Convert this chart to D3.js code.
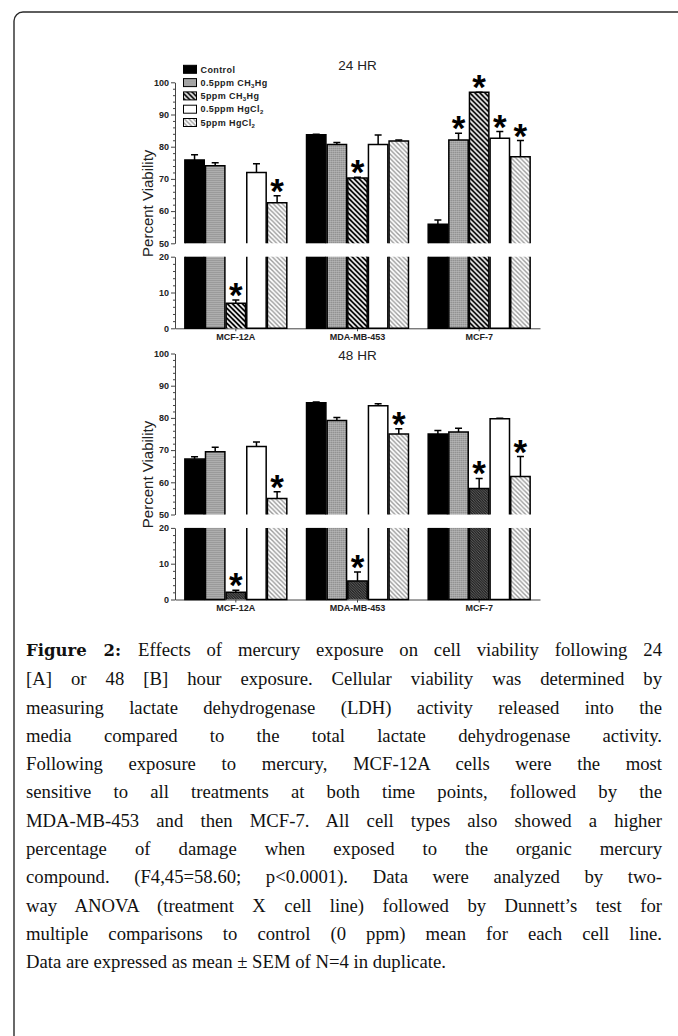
<!DOCTYPE html>
<meta charset="utf-8">
<script src="https://cdn.jsdelivr.net/npm/d3@7"></script>
<style>
body {
  margin: 0;
  background: #fff;
}
#wrap {
  position: relative;
  width: 678px;
  height: 1036px;
  overflow: hidden;
}
svg {
  position: absolute;
  left: 0;
  top: 0;
}
.caption {
  position: absolute;
  left: 26px;
  top: 636px;
  width: 636px;
  font-family: "Liberation Serif", "Times New Roman", serif;
  font-size: 18.7px;
  line-height: 28.3px;
  color: #111;
}
.caption div {
  white-space: nowrap;
  text-align: justify;
  text-align-last: justify;
}
.caption div.last {
  text-align-last: left;
}
.caption b {
  font-family: "DejaVu Serif", serif;
  font-size: 16.5px;
}
.axis text {
  font-family: "Liberation Sans", Arial, sans-serif;
  font-size: 9px;
  font-weight: bold;
  fill: #222;
}
.axis path, .axis line {
  stroke: #444;
}
</style>
<body>
<div id="wrap"></div>
<script>

// cell lines and treatments
var cellLines = ["MCF-12A", "MDA-MB-453", "MCF-7"];
var treatments = ["Control", "0.5ppm CH3Hg", "5ppm CH3Hg", "0.5ppm HgCl2", "5ppm HgCl2"];

// 24 HR: percent viability (mean), one row per cell line
var mean24 = [
  [75.9, 74.1, 7.0, 72.0, 62.6],
  [83.7, 80.7, 70.3, 80.7, 81.8],
  [55.9, 82.1, 96.9, 82.6, 76.9]
];
var sem24 = [
  [1.6, 0.9, 0.9, 2.7, 2.2],
  [0.2, 0.6, 0.2, 2.9, 0.3],
  [1.3, 2.1, 0.0, 2.1, 5.0]
];
var sig24 = [
  [0, 0, 1, 0, 1],
  [0, 0, 1, 0, 0],
  [0, 1, 1, 1, 1]
];

// 48 HR
var mean48 = [
  [67.2, 69.5, 2.0, 71.1, 55.0],
  [84.7, 79.2, 5.2, 83.8, 75.0],
  [75.0, 75.6, 58.1, 79.7, 61.8]
];
var sem48 = [
  [0.7, 1.4, 0.6, 1.4, 2.1],
  [0.2, 0.9, 2.5, 0.6, 1.6],
  [1.1, 1.2, 3.1, 0.2, 6.2]
];
var sig48 = [
  [0, 0, 1, 0, 1],
  [0, 0, 1, 0, 1],
  [0, 0, 1, 0, 1]
];

var upperTicks = [50, 60, 70, 80, 90, 100];
var lowerTicks = [0, 10, 20];

var captionLines = [
  "Effects of mercury exposure on cell viability following 24",
  "[A] or 48 [B] hour exposure. Cellular viability was determined by",
  "measuring lactate dehydrogenase (LDH) activity released into the",
  "media compared to the total lactate dehydrogenase activity.",
  "Following exposure to mercury, MCF-12A cells were the most",
  "sensitive to all treatments at both time points, followed by the",
  "MDA-MB-453 and then MCF-7. All cell types also showed a higher",
  "percentage of damage when exposed to the organic mercury",
  "compound. (F4,45=58.60; p<0.0001). Data were analyzed by two-",
  "way ANOVA (treatment X cell line) followed by Dunnett\u2019s test for",
  "multiple comparisons to control (0 ppm) mean for each cell line.",
  "Data are expressed as mean \u00b1 SEM of N=4 in duplicate."
];

var W = 678, H = 1036;
var plotLeft = 175, plotRight = 540;

var svg = d3.select("#wrap").append("svg")
    .attr("width", W)
    .attr("height", H);

// frame round the figure
svg.append("rect")
    .attr("x", 14)
    .attr("y", 12)
    .attr("width", 720)
    .attr("height", 1100)
    .attr("rx", 9)
    .attr("fill", "none")
    .attr("stroke", "#2a2a2a")
    .attr("stroke-width", 1.4);

// fill patterns
var defs = svg.append("defs");

var stip = defs.append("pattern").attr("id", "stipple")
    .attr("patternUnits", "userSpaceOnUse").attr("width", 2).attr("height", 2);
stip.append("rect").attr("width", 2).attr("height", 2).attr("fill", "#a6a6a6");
stip.append("rect").attr("width", 1).attr("height", 1).attr("fill", "#8e8e8e");
stip.append("rect").attr("x", 1).attr("y", 1).attr("width", 1).attr("height", 1).attr("fill", "#b6b6b6");

function hatch(id, size, bg, fg, sw) {
  var p = defs.append("pattern").attr("id", id)
      .attr("patternUnits", "userSpaceOnUse").attr("width", size).attr("height", size);
  p.append("rect").attr("width", size).attr("height", size).attr("fill", bg);
  p.append("path")
      .attr("d", "M0,0L" + size + "," + size +
                 "M" + (-size) + ",0L" + size + "," + (2 * size) +
                 "M0," + (-size) + "L" + (2 * size) + "," + size)
      .attr("stroke", fg)
      .attr("stroke-width", sw);
}
hatch("stripeDark", 5, "#000", "#fff", 1.6);
hatch("stripeFine", 2.6, "#262626", "#6a6a6a", 0.8);
hatch("stripeLight", 4.5, "#fff", "#9a9a9a", 1.4);

var fills24 = ["#000", "url(#stipple)", "url(#stripeDark)", "#fff", "url(#stripeLight)"];
var fills48 = ["#000", "url(#stipple)", "url(#stripeFine)", "#fff", "url(#stripeLight)"];

var x0 = d3.scaleBand()
    .domain(cellLines)
    .range([plotLeft, plotRight])
    .paddingInner(0.162)
    .paddingOuter(0.081);

var x1 = d3.scaleBand()
    .domain(treatments)
    .range([0, x0.bandwidth()])
    .paddingInner(0.06);

function drawPanel(top, title, titleY, means, sems, sigs, fills) {
  var g = svg.append("g");

  var yU = d3.scaleLinear().domain([50, 100]).range([top + 161, top]);
  var yL = d3.scaleLinear().domain([0, 20]).range([top + 246, top + 174.4]);

  function minor(lo, hi) {
    return d3.range(lo, hi + 1, 2).filter(function(d) { return d % 10 != 0; });
  }

  // y axes, upper and lower segment
  [[yU, upperTicks], [yL, lowerTicks]].forEach(function(s) {
    var sc = s[0], tv = s[1];
    g.append("g").attr("class", "axis")
        .attr("transform", "translate(" + plotLeft + ",0)")
        .call(d3.axisLeft(sc).tickValues(tv).tickSize(4).tickSizeOuter(0).tickPadding(2));
    g.append("g").attr("class", "axis")
        .attr("transform", "translate(" + plotLeft + ",0)")
        .call(d3.axisLeft(sc).tickValues(minor(sc.domain()[0], sc.domain()[1]))
              .tickSize(2).tickSizeOuter(0).tickFormat(""))
        .select(".domain").remove();
  });

  // x axis on the lower segment
  g.append("g").attr("class", "axis")
      .attr("transform", "translate(0," + yL(0) + ")")
      .call(d3.axisBottom(x0).tickSize(3).tickSizeOuter(0).tickPadding(2));

  var rows = [];
  means.forEach(function(row, i) {
    row.forEach(function(v, j) {
      rows.push({cell: cellLines[i], treat: treatments[j], j: j,
                 value: v, sem: sems[i][j], sig: sigs[i][j]});
    });
  });

  var bars = g.selectAll(".bar").data(rows).enter().append("g").attr("class", "bar")
      .attr("transform", function(d) { return "translate(" + (x0(d.cell) + x1(d.treat)) + ",0)"; });
  var bw = x1.bandwidth();

  // upper part: open at the bottom
  var up = bars.filter(function(d) { return d.value > 50; });
  up.append("rect")
      .attr("width", bw)
      .attr("y", function(d) { return yU(d.value); })
      .attr("height", function(d) { return yU(50) - yU(d.value); })
      .attr("fill", function(d) { return fills[d.j]; });
  up.append("path")
      .attr("d", function(d) {
        return "M0," + yU(50) + "V" + yU(d.value) + "H" + bw + "V" + yU(50);
      })
      .attr("fill", "none").attr("stroke", "#000").attr("stroke-width", 1.5);

  // lower part: open at the top if it goes past the break
  bars.append("rect")
      .attr("width", bw)
      .attr("y", function(d) { return yL(Math.min(d.value, 20)); })
      .attr("height", function(d) { return yL(0) - yL(Math.min(d.value, 20)); })
      .attr("fill", function(d) { return fills[d.j]; });
  bars.append("path")
      .attr("d", function(d) {
        var t = yL(Math.min(d.value, 20));
        if (d.value > 20) return "M0," + t + "V" + yL(0) + "H" + bw + "V" + t;
        return "M0," + yL(0) + "V" + t + "H" + bw + "V" + yL(0);
      })
      .attr("fill", "none").attr("stroke", "#000").attr("stroke-width", 1.5);

  function yv(v, ref) { return ref >= 50 ? yU(v) : yL(v); }

  // error bars (upper side only)
  bars.append("path")
      .attr("d", function(d) {
        var a = yv(d.value, d.value), b = yv(d.value + d.sem, d.value);
        return "M" + bw / 2 + "," + a + "V" + b + "M" + (bw / 2 - 3.5) + "," + b + "H" + (bw / 2 + 3.5);
      })
      .attr("fill", "none").attr("stroke", "#000").attr("stroke-width", 1.5);

  // significance marks
  bars.filter(function(d) { return d.sig; }).append("text")
      .attr("x", bw / 2)
      .attr("y", function(d) { return yv(d.value + d.sem, d.value) + 7; })
      .attr("text-anchor", "middle")
      .style("font-family", "'Liberation Sans', Arial, sans-serif")
      .style("font-weight", "bold")
      .style("font-size", "35px")
      .attr("fill", "#000")
      .text("*");

  // title
  g.append("text")
      .attr("x", (plotLeft + plotRight) / 2)
      .attr("y", titleY)
      .attr("text-anchor", "middle")
      .style("font-family", "'Liberation Sans', Arial, sans-serif")
      .style("font-size", "13.5px")
      .attr("fill", "#222")
      .text(title);

  // y label
  g.append("text")
      .attr("transform", "translate(153," + (top + 121) + ") rotate(-90)")
      .attr("text-anchor", "middle")
      .style("font-family", "'Liberation Sans', Arial, sans-serif")
      .style("font-size", "15px")
      .attr("fill", "#222")
      .text("Percent Viability");
}

drawPanel(82.3, "24 HR", 70, mean24, sem24, sig24, fills24);
drawPanel(353.5, "48 HR", 360, mean48, sem48, sig48, fills48);

// legend
var legend = svg.selectAll(".legend").data(treatments).enter().append("g")
    .attr("class", "legend")
    .attr("transform", function(d, i) { return "translate(183.5," + (69.3 + i * 13.3) + ")"; });
legend.append("rect")
    .attr("y", -4)
    .attr("width", 13)
    .attr("height", 8)
    .attr("fill", function(d, i) { return fills24[i]; })
    .attr("stroke", "#000")
    .attr("stroke-width", 1);
var lt = legend.append("text")
    .attr("x", 17)
    .attr("y", 3.2)
    .style("font-family", "'Liberation Sans', Arial, sans-serif")
    .style("font-size", "9px")
    .style("font-weight", "bold")
    .style("letter-spacing", "0.4px")
    .attr("fill", "#222");
lt.each(function(d) {
  var m = d.match(/^(.*?)(\d)(\D*)$/);
  var t = d3.select(this);
  if (!m || d == "Control") { t.text(d); return; }
  t.append("tspan").text(m[1]);
  t.append("tspan").attr("dy", 2).style("font-size", "6px").text(m[2]);
  t.append("tspan").attr("dy", -2).text(m[3]);
});

// caption
var cap = d3.select("#wrap").append("div").attr("class", "caption");
cap.selectAll("div").data(captionLines).enter().append("div")
    .attr("class", function(d, i) { return i == captionLines.length - 1 ? "last" : null; })
    .each(function(d, i) {
      var el = d3.select(this);
      if (i == 0) el.append("b").text("Figure 2: ");
      el.append("span").text(d);
    });

</script>
</body>
</html>
